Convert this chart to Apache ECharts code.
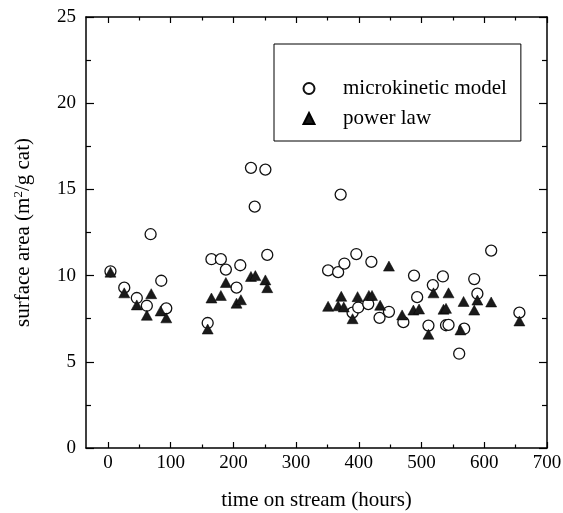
<!DOCTYPE html>
<html><head><meta charset="utf-8">
<script src="https://cdn.jsdelivr.net/npm/echarts@6/dist/echarts.min.js"></script>
<style>html,body{margin:0;padding:0;background:#fff}#c{width:563px;height:513px}</style>
</head><body><div id="c"></div>
<script>
const seriesNames = ['microkinetic model', 'power law'];
const microTime = [4, 26, 46, 62, 68, 85, 93, 159, 165, 180, 188, 205, 211, 228, 234, 251, 254, 351, 367, 371, 377, 390, 396, 399, 415, 420, 433, 448, 471, 488, 493, 511, 518, 534, 539, 543, 560, 568, 584, 589, 611, 656];
const microArea = [10.25, 9.3, 8.7, 8.25, 12.4, 9.7, 8.1, 7.25, 10.95, 10.95, 10.35, 9.3, 10.6, 16.25, 14.0, 16.15, 11.2, 10.3, 10.2, 14.7, 10.7, 7.85, 11.25, 8.15, 8.35, 10.8, 7.55, 7.9, 7.3, 10.0, 8.75, 7.1, 9.45, 9.95, 7.12, 7.14, 5.47, 6.92, 9.8, 8.95, 11.45, 7.85];
const powerTime = [4, 26, 46, 62, 69, 84, 93, 159, 165, 180, 188, 205, 212, 228, 235, 251, 254, 351, 367, 372, 376, 390, 398, 416, 421, 434, 448, 469, 487, 496, 511, 519, 535, 539, 543, 562, 567, 584, 589, 611, 656];
const powerArea = [10.2, 9.0, 8.3, 7.7, 8.95, 7.95, 7.55, 6.9, 8.7, 8.85, 9.6, 8.4, 8.6, 9.95, 10.0, 9.75, 9.3, 8.22, 8.25, 8.8, 8.18, 7.5, 8.78, 8.85, 8.85, 8.28, 10.55, 7.72, 8.0, 8.06, 6.6, 9.0, 8.05, 8.1, 9.0, 6.85, 8.5, 8.0, 8.58, 8.47, 7.37];
const xMajorTicks = [0, 100, 200, 300, 400, 500, 600, 700];
const xMinorTicks = [50, 150, 250, 350, 450, 550, 650];
const xTitle = 'time on stream (hours)';
const yTitle = 'surface area (m{sup|2}/g cat)';

const FONT = '"Liberation Serif", "DejaVu Serif", serif';
const X_MIN = -35, X_MAX = 700, Y_MIN = 0, Y_MAX = 25;

function pairs(xs, ys) { return xs.map((x, i) => [x, ys[i]]); }

function xAxisDef(pos, ticks, len, showLabel, showLine) {
  return {
    type: 'value', position: pos, min: X_MIN, max: X_MAX,
    axisLine: { show: showLine, onZero: false, lineStyle: { color: '#000', width: 1.5 } },
    axisTick: { show: true, inside: true, length: len, customValues: ticks, lineStyle: { color: '#000', width: 1.2 } },
    axisLabel: { show: showLabel, customValues: xMajorTicks, margin: 6, fontFamily: FONT, fontSize: 19, color: '#000' },
    splitLine: { show: false }
  };
}

const chart = echarts.init(document.getElementById('c'), null, { renderer: 'canvas' });
chart.setOption({
  animation: false,
  backgroundColor: '#fff',
  grid: { left: 86, right: 16, top: 17, bottom: 65, containLabel: false, outerBoundsMode: 'none' },
  legend: {
    orient: 'vertical', left: 274, top: 44,
    padding: [34, 14, 12, 28.5], itemGap: 9, itemWidth: 11, itemHeight: 11,
    borderColor: '#000', borderWidth: 1,
    textStyle: { fontFamily: FONT, fontSize: 21, color: '#000', padding: [0, 0, 0, 23.5] },
    data: [
      { name: seriesNames[0], icon: 'circle' },
      { name: seriesNames[1], icon: 'triangle' }
    ]
  },
  xAxis: [
    Object.assign(xAxisDef('bottom', xMajorTicks, 6, true, true), {
      name: xTitle, nameLocation: 'middle', nameGap: 42,
      nameTextStyle: { fontFamily: FONT, fontSize: 21, color: '#000' }
    }),
    xAxisDef('bottom', xMinorTicks, 3.5, false, false),
    xAxisDef('top', xMajorTicks, 6, false, true),
    xAxisDef('top', xMinorTicks, 3.5, false, false)
  ],
  yAxis: [
    {
      type: 'value', position: 'left', min: Y_MIN, max: Y_MAX, interval: 5,
      name: yTitle, nameLocation: 'middle', nameGap: 52, nameRotate: 90,
      nameTextStyle: { fontFamily: FONT, fontSize: 21, color: '#000',
        rich: { sup: { fontFamily: FONT, fontSize: 13, color: '#000', verticalAlign: 'top', padding: [0, 0, 9, 0] } } },
      axisLine: { show: true, onZero: false, lineStyle: { color: '#000', width: 1.5 } },
      axisTick: { inside: true, length: 8, lineStyle: { color: '#000', width: 1.2 } },
      minorTick: { show: true, splitNumber: 2, length: 5, lineStyle: { color: '#000', width: 1.2 } },
      axisLabel: { margin: 10, fontFamily: FONT, fontSize: 19, color: '#000' },
      splitLine: { show: false }, minorSplitLine: { show: false }
    },
    {
      type: 'value', position: 'right', min: Y_MIN, max: Y_MAX, interval: 5,
      axisLine: { show: true, onZero: false, lineStyle: { color: '#000', width: 1.5 } },
      axisTick: { inside: true, length: 8, lineStyle: { color: '#000', width: 1.2 } },
      minorTick: { show: true, splitNumber: 2, length: 5, lineStyle: { color: '#000', width: 1.2 } },
      axisLabel: { show: false },
      splitLine: { show: false }, minorSplitLine: { show: false }
    }
  ],
  series: [
    {
      name: seriesNames[0], type: 'scatter', xAxisIndex: 0, yAxisIndex: 0,
      symbol: 'circle', symbolSize: 11,
      itemStyle: { color: '#fff', borderColor: '#111', borderWidth: 1.3, opacity: 1 },
      data: pairs(microTime, microArea), z: 2
    },
    {
      name: seriesNames[1], type: 'scatter', xAxisIndex: 0, yAxisIndex: 0,
      symbol: 'triangle', symbolSize: [11, 10],
      itemStyle: { color: '#1a1a1a', borderColor: '#000', borderWidth: 0.5, opacity: 1 },
      data: pairs(powerTime, powerArea), z: 3
    }
  ]
});
</script></body></html>
